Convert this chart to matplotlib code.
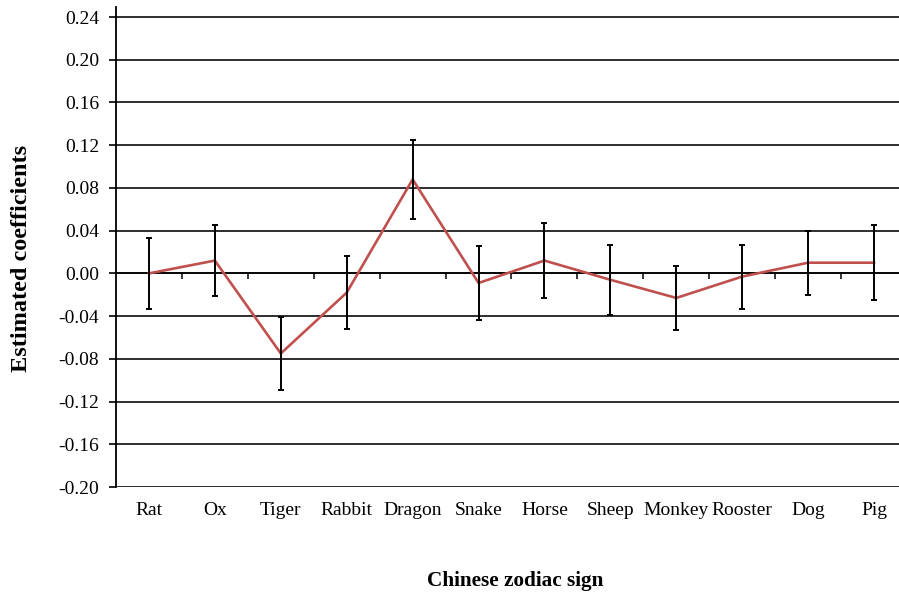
import matplotlib
matplotlib.use("Agg")
import matplotlib.pyplot as plt
import numpy as np

signs = ["Rat", "Ox", "Tiger", "Rabbit", "Dragon", "Snake", "Horse",
         "Sheep", "Monkey", "Rooster", "Dog", "Pig"]
coef = [0.000, 0.012, -0.075, -0.018, 0.088, -0.009, 0.012,
        -0.006, -0.023, -0.003, 0.010, 0.010]
err = [0.033, 0.033, 0.034, 0.034, 0.037, 0.035, 0.035,
       0.033, 0.030, 0.030, 0.030, 0.035]
yticks = [-0.20, -0.16, -0.12, -0.08, -0.04, 0.00, 0.04, 0.08, 0.12, 0.16, 0.20, 0.24]

plt.rcParams['font.family'] = ['Liberation Serif', 'DejaVu Serif']

W, H = 899, 599
fig = plt.figure(figsize=(W / 100, H / 100), dpi=100)
ax = fig.add_axes([116 / W, (H - 487) / H, 791 / W, 480 / H])

x = np.arange(len(signs))
ax.set_xlim(-0.5, len(signs) - 0.5)
ax.set_ylim(-0.20, 0.2494)

for yv in yticks:
    ax.axhline(yv, color='black', lw=1.15, zorder=1)

ax.plot(x, coef, color='#C0504D', lw=1.9, zorder=3)
ax.errorbar(x, coef, yerr=err, fmt='none', ecolor='black', elinewidth=1.4,
            capsize=2.5, capthick=1.4, zorder=4)

for s in ['top', 'right']:
    ax.spines[s].set_visible(False)
ax.spines['left'].set_linewidth(1.3)
ax.spines['bottom'].set_position(('data', 0))
ax.spines['bottom'].set_linewidth(1.15)

ax.set_yticks(yticks)
ax.set_yticklabels([f"{v:.2f}" for v in yticks], fontsize=14)
ax.tick_params(axis='y', direction='out', length=5, width=1.2, pad=7)

ax.set_xticks([])
ax.set_xticks(np.arange(len(signs) - 1) + 0.5, minor=True)
ax.tick_params(axis='x', which='minor', direction='out', length=4, width=1.1,
               labelbottom=False)

sec = ax.secondary_xaxis(0.0)
sec.set_xticks(x)
sec.set_xticklabels(signs, fontsize=14)
sec.tick_params(length=0, pad=11)
sec.spines['bottom'].set_visible(False)

fig.text(22 / W, 1 - 258 / H, "Estimated coefficients", rotation=90,
         fontsize=17.5, fontweight='bold', ha='center', va='center')
fig.text(515 / W, 1 - 581 / H, "Chinese zodiac sign",
         fontsize=15.3, fontweight='bold', ha='center', va='center')

fig.savefig("out.png", dpi=100)
